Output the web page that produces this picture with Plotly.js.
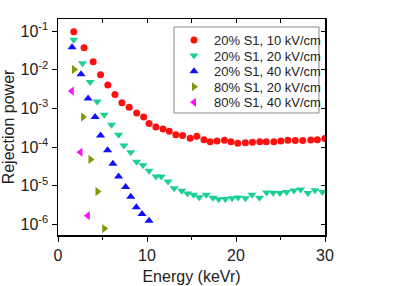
<!DOCTYPE html>
<html>
<head>
<meta charset="utf-8">
<script src="https://cdn.plot.ly/plotly-3.0.1.min.js"></script>
<style>html,body{margin:0;padding:0;background:#fff}#chart{width:396px;height:286px}</style>
</head>
<body>
<div id="chart"></div>
<script>
const names = ["20% S1, 10 kV/cm", "20% S1, 20 kV/cm", "20% S1, 40 kV/cm", "80% S1, 20 kV/cm", "80% S1, 40 kV/cm"];

const xRed = [1.77,2.93,3.95,4.78,5.6,6.4,7.18,8.0,8.84,9.63,10.23,11.0,11.8,12.5,13.24,14.0,14.85,15.6,16.4,17.1,17.87,18.7,19.44,20.2,21.05,21.85,22.67,23.4,24.25,25.04,25.83,26.66,27.5,28.4,29.14,29.97];
const yRed = [0.095,0.037,0.016,0.0074,0.0040,0.0023,0.0014,0.00108,7.6e-4,6.0e-4,4.1e-4,3.3e-4,2.95e-4,2.56e-4,2.1e-4,2.0e-4,1.7e-4,1.9e-4,1.55e-4,1.38e-4,1.44e-4,1.5e-4,1.38e-4,1.26e-4,1.29e-4,1.34e-4,1.38e-4,1.38e-4,1.38e-4,1.45e-4,1.5e-4,1.48e-4,1.48e-4,1.53e-4,1.55e-4,1.66e-4];

const xGreen = [1.77,2.75,3.61,4.4,5.19,6.02,6.81,7.41,8.17,8.84,9.55,10.23,11.02,11.6,12.37,13.05,13.9,14.55,15.23,15.87,16.66,17.41,18.05,18.8,19.56,20.23,21.06,21.8,22.64,23.43,24.18,24.93,25.68,26.5,27.26,28.08,28.87,29.7];
const yGreen = [0.059,0.0147,0.0048,0.0015,6.9e-4,3.8e-4,2.1e-4,1.1e-4,7.4e-5,4.2e-5,3.4e-5,2.46e-5,1.75e-5,1.75e-5,1.29e-5,8.7e-6,7.5e-6,6.3e-6,5.9e-6,5.1e-6,5.9e-6,4.9e-6,4.5e-6,4.6e-6,4.8e-6,5.0e-6,4.8e-6,5.9e-6,4.9e-6,6.7e-6,6.6e-6,6.5e-6,6.9e-6,7.6e-6,8.0e-6,6.5e-6,7.7e-6,6.9e-6];

const xBlue = [1.58,2.59,3.38,4.17,4.78,5.57,6.17,6.81,7.6,8.17,8.8,9.44,10.23];
const yBlue = [0.038,0.0076,0.0018,6.0e-4,2.0e-4,8.3e-5,3.7e-5,1.74e-5,9.3e-6,5.2e-6,2.8e-6,1.87e-6,1.25e-6];

const xOlive = [1.8,2.82,3.65,4.44,5.19];
const yOlive = [0.0102,6.0e-4,4.8e-5,7.1e-6,7.9e-7];

const xMag = [1.55,2.52,3.35];
const yMag = [0.0028,7.4e-5,1.7e-6];

const yTickVals = [1e-6,1e-5,1e-4,1e-3,1e-2,1e-1];
const yTickText = ["10<sup>-6</sup>","10<sup>-5</sup>","10<sup>-4</sup>","10<sup>-3</sup>","10<sup>-2</sup>","10<sup>-1</sup>"];
const xTickVals = [0,10,20,30];
const xTickText = ["0","10","20","30"];

const colors = ["#ff1010", "#1ccf95", "#1010ff", "#809a10", "#ff10ff"];
const symbols = ["circle", "triangle-down", "triangle-up", "triangle-right", "triangle-left"];
const sizes = [7, 8, 8, 8, 8];
const xs = [xRed, xGreen, xBlue, xOlive, xMag];
const ys = [yRed, yGreen, yBlue, yOlive, yMag];
const legendIds = ["legend", "legend2", "legend3", "legend4", "legend5"];

const traces = names.map((n, i) => ({
  type: "scatter", mode: "markers", name: n, x: xs[i], y: ys[i], legend: legendIds[i],
  marker: {color: colors[i], symbol: symbols[i], size: sizes[i], line: {width: 0}}
}));
traces.push({type: "scatter", mode: "markers", x: [], y: [], xaxis: "x2", yaxis: "y2", showlegend: false, hoverinfo: "skip"});

const font = {family: "Liberation Sans, Arial, sans-serif", color: "#222"};
const yr = [-6.27, -0.69];

// plot area: left 58, top 19, width 267, height 216 (px)
const pxToPaperY = py => 1 - (py - 19) / 216;
const pxToPaperX = px => (px - 58) / 267;
const rowCenters = [40, 55.6, 71.2, 86.8, 102.4];

const layout = {
  width: 396, height: 286,
  margin: {l: 58, r: 71, t: 19, b: 51},
  paper_bgcolor: "#fff", plot_bgcolor: "#fff",
  font: Object.assign({size: 16}, font),
  showlegend: true,
  shapes: [{
    type: "rect", xref: "paper", yref: "paper",
    x0: pxToPaperX(174), x1: pxToPaperX(319), y0: pxToPaperY(113), y1: pxToPaperY(27),
    line: {color: "#888", width: 1}, fillcolor: "rgba(0,0,0,0)", layer: "above"
  }],
  xaxis: {
    range: [0, 30], tickvals: xTickVals, ticktext: xTickText,
    ticks: "outside", ticklen: 5, tickwidth: 1, tickcolor: "#000",
    minor: {dtick: 5, tick0: 0, ticks: "outside", ticklen: 3, tickcolor: "#000"},
    showline: true, linecolor: "#000", linewidth: 1.5, showgrid: false, zeroline: false,
    tickfont: Object.assign({size: 16}, font),
    title: {text: "Energy (keVr)", font: Object.assign({size: 16}, font), standoff: 8}
  },
  yaxis: {
    type: "log", range: yr, tickvals: yTickVals, ticktext: yTickText,
    ticks: "outside", ticklen: 5, tickwidth: 1, tickcolor: "#000",
    showline: true, linecolor: "#000", linewidth: 1.5, showgrid: false, zeroline: false,
    tickfont: Object.assign({size: 16}, font),
    title: {text: "Rejection power", font: Object.assign({size: 16}, font), standoff: 4}
  },
  xaxis2: {
    overlaying: "x", side: "top", range: [0, 30], dtick: 5, tick0: 0,
    ticks: "inside", ticklen: 4, tickcolor: "#000", showticklabels: false,
    showline: true, linecolor: "#000", linewidth: 1.5, showgrid: false, zeroline: false
  },
  yaxis2: {
    overlaying: "y", side: "right", type: "log", range: yr, tickvals: yTickVals,
    ticks: "inside", ticklen: 4, tickcolor: "#000", showticklabels: false,
    showline: true, linecolor: "#000", linewidth: 1.5, showgrid: false, zeroline: false
  }
};

legendIds.forEach((id, i) => {
  layout[id] = {
    x: pxToPaperX(174), y: pxToPaperY(rowCenters[i]), xanchor: "left", yanchor: "middle",
    borderwidth: 0, bgcolor: "rgba(0,0,0,0)", itemwidth: 30,
    font: Object.assign({size: 13}, font)
  };
});

Plotly.newPlot("chart", traces, layout, {staticPlot: true, displayModeBar: false});
</script>
</body>
</html>
